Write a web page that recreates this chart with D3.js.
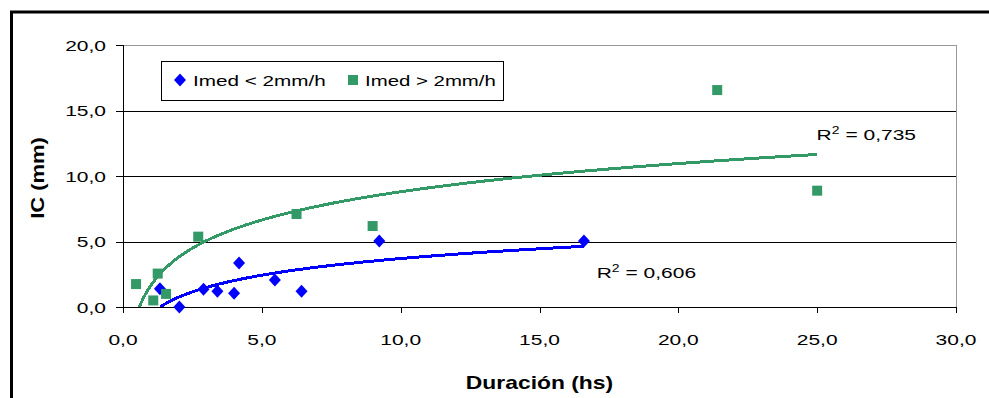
<!DOCTYPE html>
<html>
<head>
<meta charset="utf-8">
<script src="https://d3js.org/d3.v7.min.js"></script>
<style>
  body { margin: 0; background: #fff; }
  svg { display: block; font-family: "Liberation Sans", Arial, sans-serif; }
</style>
</head>
<body>
<script>
// values
var lowPts = [[1.33,1.4],[2.03,0.0],[2.9,1.35],[3.4,1.2],[4.0,1.05],[4.18,3.35],[5.47,2.06],[6.43,1.2],[9.23,5.04],[16.6,5.04]];
var highPts = [[0.47,1.75],[1.09,0.5],[1.25,2.55],[1.55,1.0],[2.71,5.37],[6.25,7.1],[8.99,6.18],[21.4,16.56],[25.0,8.88]];
var seriesNames = ["Imed < 2mm/h", "Imed > 2mm/h"];
var seriesColors = ["#0000ff", "#339966"];
var r2Labels = ["0,606", "0,735"];
var xTicks = [0, 5, 10, 15, 20, 25, 30];
var yTicks = [0, 5, 10, 15, 20];
var xTitle = "Duración (hs)";
var yTitle = "IC (mm)";

var W = 989, H = 398;
var svg = d3.select("body").append("svg").attr("width", W).attr("height", H);

var x = d3.scaleLinear().domain([0, 30]).range([123, 956]);
var y = d3.scaleLinear().domain([0, 20]).range([307, 45]);
var fmt = function(v) { return d3.format(".1f")(v).replace(".", ","); };

// outer chart frame (runs off the right and bottom edge)
svg.append("rect").attr("x", 11.5).attr("y", 12).attr("width", 1000).attr("height", 420)
  .style("fill", "#fff").style("stroke", "#000").style("stroke-width", 3);

// text helper, the original lettering is stretched sideways
function label(g, px, py, txt, size, sx, anchor, bold) {
  return g.append("text")
    .attr("transform", "translate(" + px + "," + py + ") scale(" + sx + ",1)")
    .attr("text-anchor", anchor || "start")
    .style("font-size", size + "px")
    .style("font-weight", bold ? "bold" : "normal")
    .text(txt);
}

// plot area
svg.append("rect").attr("x", x(0)).attr("y", y(20)).attr("width", x(30) - x(0)).attr("height", y(0) - y(20))
  .style("fill", "#fff").style("stroke", "#999").style("stroke-width", 1).attr("shape-rendering", "crispEdges");

// gridlines
svg.selectAll("line.grid").data(yTicks.filter(function(d) { return d > 0 && d < 20; })).enter()
  .append("line").attr("class", "grid")
  .attr("x1", x(0)).attr("x2", x(30))
  .attr("y1", function(d) { return Math.round(y(d)) + 0.5; })
  .attr("y2", function(d) { return Math.round(y(d)) + 0.5; })
  .style("stroke", "#000").attr("shape-rendering", "crispEdges");

// axes
var xAxis = d3.axisBottom(x).tickValues(xTicks).tickSize(6).tickFormat("");
var yAxis = d3.axisLeft(y).tickValues(yTicks).tickSize(7).tickFormat("");
var gx = svg.append("g").attr("transform", "translate(0," + y(0) + ")").call(xAxis);
var gy = svg.append("g").attr("transform", "translate(" + x(0) + ",0)").call(yAxis);
[gx, gy].forEach(function(g) {
  g.selectAll("path, line").style("stroke", "#000").attr("shape-rendering", "crispEdges");
});

var labels = svg.append("g").style("fill", "#000");
xTicks.forEach(function(t) { label(labels, x(t), 345, fmt(t), 15, 1.4, "middle"); });
yTicks.forEach(function(t) { label(labels, 106, y(t) + 5.5, fmt(t), 15, 1.4, "end"); });

label(labels, (x(0) + x(30)) / 2, 389, xTitle, 18, 1.27, "middle", true);
labels.append("text")
  .attr("transform", "translate(44," + ((y(0) + y(20)) / 2 + 2) + ") rotate(-90) scale(1.22,1)")
  .attr("text-anchor", "middle").style("font-size", "18px").style("font-weight", "bold")
  .text(yTitle);

// log trendlines fitted to each series
function logFit(pts) {
  var lx = pts.map(function(p) { return Math.log(p[0]); });
  var ys = pts.map(function(p) { return p[1]; });
  var mx = d3.mean(lx), my = d3.mean(ys), sxy = 0, sxx = 0;
  lx.forEach(function(v, i) { sxy += (v - mx) * (ys[i] - my); sxx += (v - mx) * (v - mx); });
  var a = sxy / sxx;
  return { a: a, b: my - a * mx };
}

svg.append("clipPath").attr("id", "plotclip").append("rect")
  .attr("x", x(0)).attr("y", y(20)).attr("width", x(30) - x(0)).attr("height", y(0) - y(20));

var line = d3.line().x(function(d) { return x(d[0]); }).y(function(d) { return y(d[1]); });

[lowPts, highPts].forEach(function(pts, i) {
  var fit = logFit(pts);
  var ext = d3.extent(pts, function(p) { return p[0]; });
  var trend = d3.range(0, 81).map(function(k) {
    var xv = ext[0] * Math.pow(ext[1] / ext[0], k / 80);
    return [xv, fit.a * Math.log(xv) + fit.b];
  });
  svg.append("path").attr("d", line(trend)).attr("clip-path", "url(#plotclip)")
    .style("fill", "none").style("stroke", seriesColors[i]).style("stroke-width", 3)
    .attr("shape-rendering", "crispEdges");
});

// markers
var diamond = "M0,-6.5L6,0L0,6.5L-6,0Z";
svg.selectAll("path.low").data(lowPts).enter().append("path").attr("class", "low")
  .attr("d", diamond)
  .attr("transform", function(d) { return "translate(" + x(d[0]) + "," + y(d[1]) + ")"; })
  .style("fill", seriesColors[0]);

svg.selectAll("rect.high").data(highPts).enter().append("rect").attr("class", "high")
  .attr("x", function(d) { return x(d[0]) - 5; })
  .attr("y", function(d) { return y(d[1]) - 5; })
  .attr("width", 10).attr("height", 10)
  .style("fill", seriesColors[1]);

// R² labels
function r2(px, py, val) {
  var t = labels.append("text")
    .attr("transform", "translate(" + px + "," + py + ") scale(1.4,1)")
    .style("font-size", "15px");
  t.append("tspan").text("R");
  t.append("tspan").attr("dy", -6).style("font-size", "10px").text("2");
  t.append("tspan").attr("dy", 6).text(" = " + val);
}
r2(x(17.06), y(2.21), r2Labels[0]);
r2(x(24.98), y(12.75), r2Labels[1]);

// legend
var leg = svg.append("g");
leg.append("rect").attr("x", 161.5).attr("y", 61.5).attr("width", 342).attr("height", 39)
  .style("fill", "#fff").style("stroke", "#000").style("stroke-width", 1);
leg.append("path").attr("d", diamond).attr("transform", "translate(180,80)").style("fill", seriesColors[0]);
label(leg, 193, 85.5, seriesNames[0], 15, 1.38, "start");
leg.append("rect").attr("x", 348).attr("y", 75).attr("width", 10).attr("height", 10).style("fill", seriesColors[1]);
label(leg, 365, 85.5, seriesNames[1], 15, 1.36, "start");
</script>
</body>
</html>
